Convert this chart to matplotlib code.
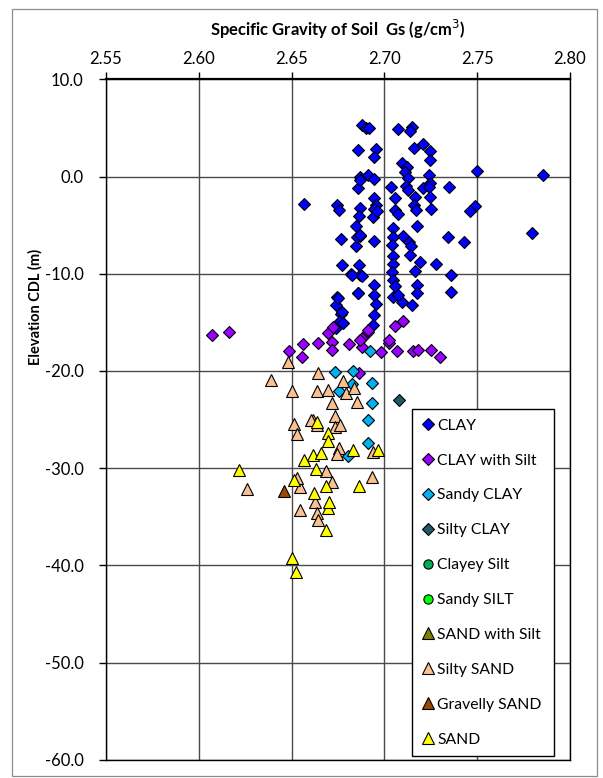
import matplotlib
matplotlib.use("Agg")
import matplotlib.pyplot as plt
from matplotlib.patches import Rectangle

plt.rcParams['font.family'] = ['Lato', 'DejaVu Sans']

# ---------------- data ----------------
clay_gs = [2.688, 2.690, 2.692, 2.7076, 2.7148, 2.7140, 2.686, 2.6955, 2.6946, 2.716,
           2.7208, 2.7247, 2.7247, 2.7094, 2.712, 2.711, 2.6868, 2.691, 2.6946, 2.686,
           2.687, 2.7036, 2.713, 2.7116, 2.713, 2.7166, 2.716, 2.717, 2.724, 2.7247,
           2.7211, 2.724, 2.7247, 2.725, 2.735, 2.7058, 2.7058, 2.7076, 2.657, 2.6747,
           2.6755, 2.6868, 2.6865, 2.6946, 2.6955, 2.6946, 2.6937, 2.6962, 2.685, 2.6868,
           2.6847, 2.6769, 2.6946, 2.7175, 2.7103, 2.7135, 2.7142, 2.7138, 2.7045, 2.7045,
           2.704, 2.7343, 2.7193, 2.7166, 2.7278, 2.736, 2.736, 2.7049, 2.7045, 2.704,
           2.7045, 2.7058, 2.7049, 2.7094, 2.7148, 2.7175, 2.7175, 2.7076, 2.6774, 2.6865,
           2.6823, 2.6868, 2.6859, 2.6946, 2.6946, 2.6955, 2.6946, 2.6937, 2.6746, 2.6742,
           2.6769, 2.676, 2.6742, 2.750, 2.7853, 2.7797, 2.7489, 2.7462, 2.743, 2.6851,
           2.6869, 2.6824, 2.6878, 2.6857, 2.6752, 2.6770, 2.6779]
clay_elev = [5.3, 5.0, 5.0, 4.9, 5.1, 4.7, 2.7, 2.85, 1.96, 2.9,
             3.3, 2.65, 1.7, 1.44, 1.0, 0.5, 0.0, 0.17, -0.27, -1.2,
             -0.34, -1.1, -0.17, -0.96, -1.44, -2.1, -2.9, -3.4, 0.17, -0.7,
             -1.2, -1.1, -2.1, -3.3, -1.1, -2.2, -3.4, -3.85, -2.85, -2.9,
             -3.4, -3.2, -4.05, -2.2, -2.9, -3.3, -4.2, -3.6, -5.1, -6.1,
             -7.2, -6.4, -6.6, -5.05, -6.1, -6.7, -7.1, -8.1, -5.3, -6.2,
             -7.0, -6.2, -8.8, -9.7, -9.0, -10.1, -11.9, -8.2, -9.0, -9.8,
             -10.65, -11.3, -12.4, -12.9, -13.2, -11.2, -12.0, -12.2, -9.1, -9.1,
             -10.0, -10.1, -12.0, -11.2, -12.2, -13.1, -14.3, -15.3, -12.4, -13.2,
             -14.1, -14.9, -15.6, 0.57, 0.19, -5.85, -3.0, -3.6, -6.7, -6.2,
             -6.0, -10.1, -10.2, -12.0, -12.5, -13.9, -15.1]

clay_silt_gs = [2.6073, 2.6165, 2.6487, 2.6557, 2.6564, 2.6644, 2.6698, 2.6725, 2.672, 2.6716,
                2.6811, 2.6878, 2.6914, 2.6878, 2.6865, 2.6982, 2.7026, 2.7067, 2.7156, 2.7103,
                2.7057, 2.6914, 2.6868, 2.7026, 2.7184, 2.725, 2.730]
clay_silt_elev = [-16.3, -16.0, -18.0, -18.6, -17.2, -17.1, -16.1, -15.45, -17.0, -17.9,
                  -17.2, -16.65, -16.0, -17.5, -20.2, -18.1, -17.1, -18.0, -18.0, -14.85,
                  -15.4, -15.8, -16.8, -16.8, -17.9, -17.8, -18.6]

sandy_clay_gs = [2.6734, 2.6833, 2.6932, 2.6757, 2.6824, 2.6932, 2.6914, 2.6914, 2.6806, 2.6922]
sandy_clay_elev = [-20.1, -20.0, -21.2, -22.1, -21.3, -23.3, -25.0, -27.4, -28.8, -18.0]

silty_clay_gs = [2.7081]
silty_clay_elev = [-23.0]

clayey_silt_gs = []
clayey_silt_elev = []

sandy_silt_gs = []
sandy_silt_elev = []

sand_silt_gs = []
sand_silt_elev = []

silty_sand_gs = [2.6479, 2.6389, 2.6501, 2.6644, 2.6636, 2.6698, 2.6716, 2.6776, 2.6794, 2.6837,
                 2.6851, 2.6734, 2.6734, 2.6761, 2.6617, 2.6636, 2.6515, 2.6528, 2.6757, 2.6743,
                 2.6941, 2.6932, 2.6688, 2.6716, 2.6258, 2.6546, 2.6531, 2.6627, 2.6546, 2.6639,
                 2.6644, 2.6605]
silty_sand_elev = [-19.05, -20.9, -22.1, -20.25, -22.1, -22.0, -23.3, -21.0, -22.3, -21.8,
                   -23.2, -24.6, -25.8, -25.6, -25.1, -25.6, -25.5, -26.5, -27.9, -28.6,
                   -28.3, -30.9, -30.3, -31.4, -32.1, -31.9, -31.05, -33.5, -34.3, -34.65,
                   -35.3, -25.0]

gravelly_sand_gs = [2.6461]
gravelly_sand_elev = [-32.4]

sand_gs = [2.6636, 2.6695, 2.6698, 2.6617, 2.6657, 2.6569, 2.6833, 2.6968, 2.6630, 2.6219,
           2.6515, 2.6684, 2.6862, 2.6623, 2.6698, 2.6703, 2.6684, 2.6501, 2.6526]
sand_elev = [-25.3, -26.4, -27.2, -28.7, -28.4, -29.2, -28.1, -28.1, -30.1, -30.2,
             -31.2, -31.8, -31.8, -32.6, -34.1, -33.5, -36.4, -39.2, -40.7]

series_names = ["CLAY", "CLAY with Silt", "Sandy CLAY", "Silty CLAY", "Clayey Silt",
                "Sandy SILT", "SAND with Silt", "Silty SAND", "Gravelly SAND", "SAND"]
series_gs = [clay_gs, clay_silt_gs, sandy_clay_gs, silty_clay_gs, clayey_silt_gs,
             sandy_silt_gs, sand_silt_gs, silty_sand_gs, gravelly_sand_gs, sand_gs]
series_elev = [clay_elev, clay_silt_elev, sandy_clay_elev, silty_clay_elev, clayey_silt_elev,
               sandy_silt_elev, sand_silt_elev, silty_sand_elev, gravelly_sand_elev, sand_elev]
series_colors = ["#0000FF", "#9900FF", "#00B0F0", "#215968", "#00B050",
                 "#00FF00", "#808000", "#FAC090", "#984807", "#FFFF00"]
series_markers = ["D", "D", "D", "D", "o", "o", "^", "^", "^", "^"]

x_ticks = [2.55, 2.60, 2.65, 2.70, 2.75, 2.80]
x_labels = ["2.55", "2.60", "2.65", "2.70", "2.75", "2.80"]
y_ticks = [10, 0, -10, -20, -30, -40, -50, -60]
y_labels = ["10.0", "0.0", "-10.0", "-20.0", "-30.0", "-40.0", "-50.0", "-60.0"]

# ---------------- figure ----------------
W, H = 603, 778
fig = plt.figure(figsize=(W / 100, H / 100), dpi=100)
fig.patches.append(Rectangle((12 / W, 1 - 776 / H), 585 / W, 767 / H, transform=fig.transFigure,
                             fill=False, edgecolor="#8C8C8C", linewidth=0.9))

ax = fig.add_axes([105.9 / W, 1 - 759.7 / H, 464 / W, 680.4 / H])

sizes = {"D": 6.0, "o": 7.0, "^": 8.5}
for name, gs, el, col, mk in zip(series_names, series_gs, series_elev, series_colors, series_markers):
    ax.plot(gs, el, linestyle="none", marker=mk, markersize=sizes[mk],
            markerfacecolor=col, markeredgecolor="black", markeredgewidth=0.8,
            label=name, zorder=3)

ax.set_xlim(2.55, 2.80)
ax.set_ylim(-60, 10)
ax.xaxis.tick_top()
ax.xaxis.set_label_position("top")
ax.set_xticks(x_ticks)
ax.set_xticklabels(x_labels)
ax.set_yticks(y_ticks)
ax.set_yticklabels(y_labels)
ax.tick_params(axis="x", direction="out", length=5, width=1, labelsize=12, pad=4, colors="black")
ax.tick_params(axis="y", direction="out", length=5, width=1, labelsize=12, pad=11, colors="black")
ax.grid(True, color="#4A4A4A", linewidth=1.0)
ax.set_axisbelow(True)
for s in ax.spines.values():
    s.set_color("black")
    s.set_linewidth(1.0)
ax.spines["top"].set_linewidth(1.6)

ax.set_xlabel("Specific Gravity of Soil  Gs (g/cm$^3$)", fontsize=12, fontweight="bold", labelpad=11)
ax.set_ylabel("Elevation CDL (m)", fontsize=10.5, fontweight="bold")
ax.yaxis.set_label_coords(-0.137, 0.665)

leg = ax.legend(loc="lower left", bbox_to_anchor=(0.6603, 0.0054, 0.3054, 0.5159), mode="expand",
                fontsize=11.3, labelspacing=1.33, handlelength=0.8, handletextpad=0.2,
                borderpad=0.6, borderaxespad=0, fancybox=False, framealpha=1,
                edgecolor="black", markerscale=0.95)
leg.get_frame().set_linewidth(1.0)

fig.savefig("out.png", dpi=100)
